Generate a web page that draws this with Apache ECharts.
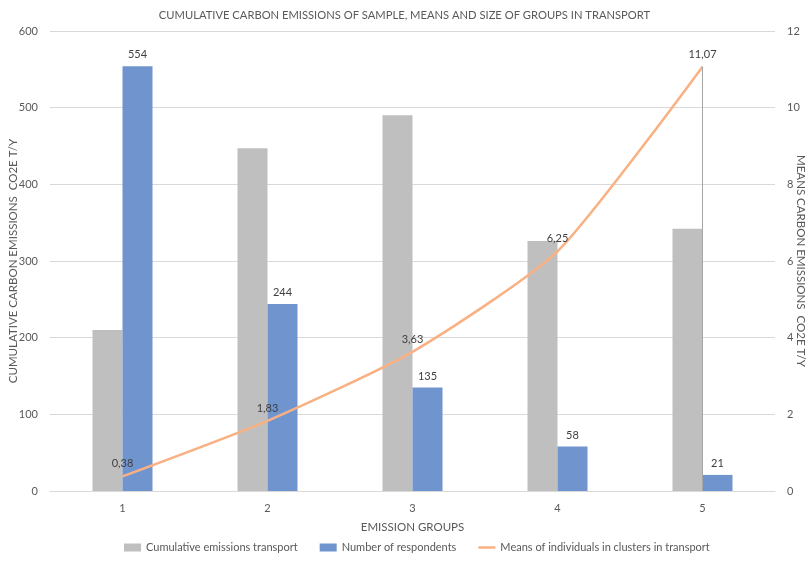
<!DOCTYPE html>
<html>
<head>
<meta charset="utf-8">
<script src="https://cdn.jsdelivr.net/npm/echarts@6/dist/echarts.min.js"></script>
<style>
  html, body { margin: 0; padding: 0; background: #fff; }
  #chart { width: 809px; height: 564px; }
</style>
</head>
<body>
<div id="chart"></div>
<script>
// Emission groups and their values
var groups = ['1', '2', '3', '4', '5'];
var cumulativeEmissions = [210, 447, 490, 326, 342];
var respondents = [554, 244, 135, 58, 21];
var groupMeans = [0.38, 1.83, 3.63, 6.25, 11.07];

var leftTicks = { min: 0, max: 600, interval: 100 };
var rightTicks = { min: 0, max: 12, interval: 2 };

var FONT = 'Lato, "Open Sans", sans-serif';
var TXT = '#595959';
var LINE_ICON = 'path://M0,0 L17,0 M0,8 L17,8 M0,2.8 L17,2.8 L17,5.2 L0,5.2 Z';

function comma(v) { return String(v).replace('.', ','); }

var chart = echarts.init(document.getElementById('chart'), null, { renderer: 'canvas' });
chart.setOption({
  animation: false,
  textStyle: { fontFamily: FONT },
  title: {
    text: 'CUMULATIVE CARBON EMISSIONS OF SAMPLE, MEANS AND SIZE OF GROUPS IN TRANSPORT',
    left: 'center', top: 5,
    textStyle: { fontSize: 11.2, fontWeight: 'normal', color: TXT, fontFamily: FONT }
  },
  grid: { left: 50, right: 34, top: 31, bottom: 73, containLabel: false, outerBoundsMode: 'none' },
  legend: {
    bottom: 6, left: 119, itemGap: 22, itemWidth: 17, itemHeight: 8,
    textStyle: { fontSize: 11, color: TXT, fontFamily: FONT },
    data: [
      { name: 'Cumulative emissions transport', icon: 'rect' },
      { name: 'Number of respondents', icon: 'rect' },
      { name: 'Means of individuals in clusters in transport', icon: LINE_ICON }
    ]
  },
  xAxis: {
    type: 'category', data: groups,
    name: 'EMISSION GROUPS', nameLocation: 'middle', nameGap: 30,
    nameTextStyle: { fontSize: 11.5, color: TXT, fontFamily: FONT },
    axisLine: { lineStyle: { color: '#d9d9d9', width: 1 } },
    axisTick: { show: false },
    axisLabel: { fontSize: 11, color: TXT, margin: 12 }
  },
  yAxis: [
    {
      type: 'value', min: leftTicks.min, max: leftTicks.max, interval: leftTicks.interval,
      name: 'CUMULATIVE CARBON EMISSIONS  CO2E T/Y', nameLocation: 'middle', nameGap: 31,
      nameMoveOverlap: false,
      nameTextStyle: { fontSize: 11.5, color: TXT, fontFamily: FONT },
      axisLine: { show: false }, axisTick: { show: false },
      axisLabel: { fontSize: 11, color: TXT, margin: 12 },
      splitLine: { lineStyle: { color: '#d9d9d9', width: 1 } }
    },
    {
      type: 'value', min: rightTicks.min, max: rightTicks.max, interval: rightTicks.interval,
      name: 'MEANS CARBON EMISSIONS  CO2E T/Y', nameLocation: 'middle', nameGap: 20,
      nameRotate: -90, nameMoveOverlap: false,
      nameTextStyle: { fontSize: 11.5, color: TXT, fontFamily: FONT },
      axisLine: { show: false }, axisTick: { show: false },
      axisLabel: { fontSize: 11, color: TXT, margin: 12 },
      splitLine: { show: false }
    }
  ],
  series: [
    {
      name: 'Cumulative emissions transport', type: 'bar', data: cumulativeEmissions,
      barWidth: 30, barGap: '0%',
      itemStyle: { color: '#bfbfbf' }
    },
    {
      name: 'Number of respondents', type: 'bar', data: respondents,
      barWidth: 30, barGap: '0%',
      itemStyle: { color: '#7094cd' },
      label: { show: true, position: 'top', fontSize: 11, color: '#404040', distance: 6 }
    },
    {
      name: 'Means of individuals in clusters in transport', type: 'line', yAxisIndex: 1,
      data: groupMeans, smooth: 0.2, showSymbol: true, symbol: 'circle', symbolSize: 0.1,
      lineStyle: { color: '#f9b183', width: 2.5 },
      itemStyle: { color: '#f9b183' },
      label: {
        show: true, position: 'top', fontSize: 11, color: '#404040', distance: 7,
        formatter: function (p) { return comma(p.value); }
      },
      markLine: {
        silent: true, symbol: 'none', label: { show: false },
        lineStyle: { color: '#a6a6a6', width: 1, type: 'solid' },
        data: [[
          { coord: [groups[4], groupMeans[4]] },
          { coord: [groups[4], 0] }
        ]]
      }
    }
  ]
});
</script>
</body>
</html>
